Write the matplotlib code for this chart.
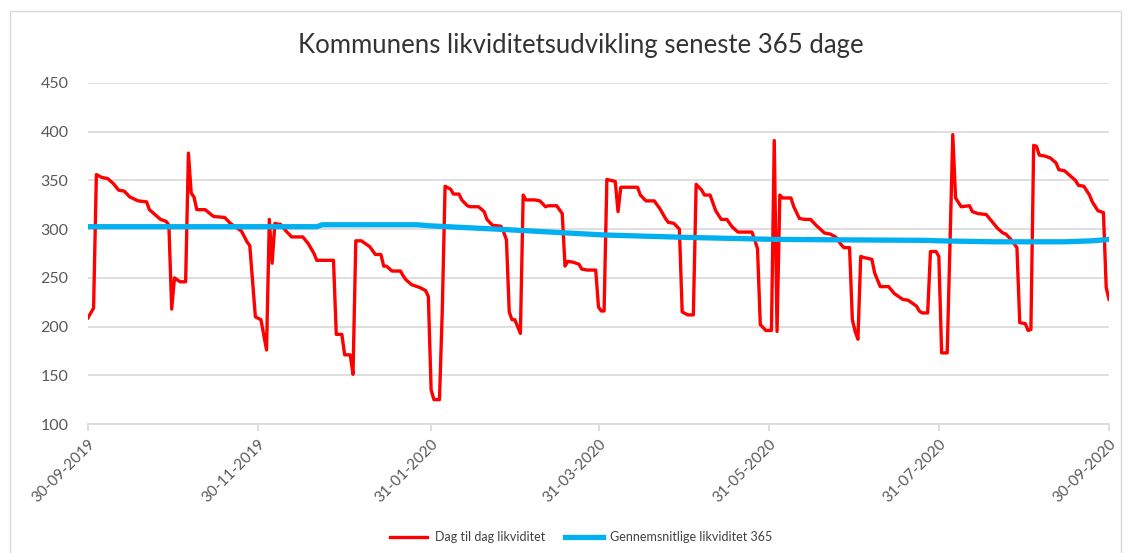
import matplotlib
matplotlib.use('Agg')
import matplotlib.pyplot as plt
from matplotlib.patches import Rectangle
import pandas as pd

# ---------------- data ----------------
start_date = '2019-09-30'

red_days = [0, 2, 3, 5, 7, 9, 11, 13, 15, 18, 21, 22, 24, 26, 28, 29, 30, 31, 33, 35,
            36, 37, 38, 39, 42, 45, 49, 51, 53, 55, 57, 58, 60, 62, 64, 65, 66, 67, 68, 69,
            71, 73, 77, 79, 80, 81, 82, 88, 89, 91, 92, 94, 95, 96, 98, 101, 103, 105, 106, 107,
            109, 112, 113, 114, 116, 119, 121, 122, 123, 124, 126, 127, 128, 130, 131, 133, 134, 136, 137, 140,
            142, 143, 145, 148, 149, 150, 151, 152, 153, 155, 156, 157, 160, 162, 164, 165, 168, 170, 171, 172,
            174, 176, 177, 179, 182, 183, 184, 185, 186, 189, 190, 191, 197, 198, 200, 203, 205, 207, 208, 210,
            212, 213, 215, 217, 218, 220, 221, 223, 225, 227, 229, 231, 233, 238, 239, 240, 241, 243, 245, 246,
            247, 248, 249, 252, 253, 255, 257, 259, 261, 264, 266, 268, 270, 271, 273, 274, 275, 276, 277, 278,
            281, 282, 284, 287, 289, 292, 294, 297, 298, 299, 301, 302, 304, 305, 306, 308, 310, 311, 313, 316,
            317, 319, 322, 324, 326, 328, 329, 331, 333, 334, 336, 337, 338, 339, 340, 341, 343, 345, 347, 348,
            350, 352, 354, 355, 357, 359, 360, 362, 364, 365, 366]
red_values = [209, 219, 356, 353, 352, 347, 340, 339, 333, 329, 328, 320, 315, 310, 308, 304, 218, 250, 246, 246,
              378, 337, 333, 320, 320, 313, 312, 306, 302, 298, 287, 283, 210, 207, 176, 310, 265, 306, 305, 305,
              298, 292, 292, 285, 280, 275, 268, 268, 192, 192, 171, 171, 151, 288, 288, 282, 274, 274, 262, 262,
              257, 257, 252, 248, 243, 240, 237, 231, 135, 125, 125, 217, 344, 341, 336, 336, 330, 324, 323, 323,
              318, 310, 304, 303, 297, 289, 215, 207, 207, 193, 335, 330, 330, 329, 323, 324, 324, 316, 262, 267,
              266, 264, 259, 258, 258, 220, 216, 216, 351, 349, 318, 343, 343, 335, 329, 329, 321, 311, 307, 306,
              300, 215, 212, 212, 346, 340, 335, 335, 319, 310, 310, 302, 297, 297, 289, 280, 202, 196, 196, 391,
              195, 335, 332, 332, 323, 311, 310, 310, 304, 296, 295, 292, 284, 281, 281, 207, 195, 187, 272, 271,
              269, 255, 241, 241, 234, 228, 227, 221, 216, 214, 214, 277, 277, 272, 173, 173, 397, 332, 323, 324,
              318, 316, 315, 308, 301, 296, 295, 289, 281, 204, 203, 196, 197, 386, 385, 376, 375, 373, 368, 361,
              360, 355, 350, 345, 344, 335, 328, 319, 317, 240, 228]

blue_days = [0, 82, 84, 118, 122, 150, 185, 215, 246, 270, 300, 305, 325, 350, 360, 366]
blue_values = [302.5, 302.5, 304.5, 304.5, 303.5, 299.5, 294, 291.5, 289.5, 289, 288.5, 288, 287, 287, 288, 289.5]

tick_labels = ['30-09-2019', '30-11-2019', '31-01-2020', '31-03-2020',
               '31-05-2020', '31-07-2020', '30-09-2020']
y_ticks = [100, 150, 200, 250, 300, 350, 400, 450]
title = 'Kommunens likviditetsudvikling seneste 365 dage'
series_names = ['Dag til dag likviditet', 'Gennemsnitlige likviditet 365']

# ---------------- plot ----------------
plt.rcParams['font.family'] = ['Lato', 'DejaVu Sans']

base = pd.Timestamp(start_date)
red_dates = base + pd.to_timedelta(red_days, unit='D')
blue_dates = base + pd.to_timedelta(blue_days, unit='D')
tick_dates = pd.to_datetime(tick_labels, format='%d-%m-%Y')

W, H = 1128, 553
fig = plt.figure(figsize=(W / 100, H / 100), dpi=100)
fig.patch.set_facecolor('white')

# chart area border
fig.patches.append(Rectangle((10 / W, -0.05), 1111 / W, 1 - 11 / H + 0.05,
                             transform=fig.transFigure, fill=False,
                             edgecolor='#d9d9d9', linewidth=1.0))

ax = fig.add_axes([88 / W, 1 - 424 / H, 1021 / W, 341 / H])

l1, = ax.plot(red_dates, red_values, color='#ff0000', linewidth=2.4,
              solid_joinstyle='round', zorder=3)
l2, = ax.plot(blue_dates, blue_values, color='#00b0f0', linewidth=3.8,
              solid_joinstyle='round', zorder=4)

ax.set_xlim(tick_dates[0], tick_dates[-1])
ax.set_ylim(y_ticks[0], y_ticks[-1])
ax.set_yticks(y_ticks)
ax.set_xticks(tick_dates)
ax.set_xticklabels(tick_labels, rotation=45, ha='right', rotation_mode='anchor')

ax.grid(axis='y', color='#d9d9d9', linewidth=1.2)
ax.set_axisbelow(True)
for s in ['top', 'left', 'right']:
    ax.spines[s].set_visible(False)
ax.spines['bottom'].set_color('#d9d9d9')
ax.spines['bottom'].set_linewidth(1.2)
ax.spines['bottom'].set_zorder(2)

ax.tick_params(axis='y', length=0, pad=14, labelsize=11.5, labelcolor='#595959')
ax.tick_params(axis='x', length=5, width=1.2, color='#d9d9d9', direction='out',
               pad=4, labelsize=11, labelcolor='#595959')

fig.text(581 / W, 1 - 45 / H, title, ha='center', va='center',
         fontsize=18.5, color='#333333')

fig.legend([l1, l2], series_names, loc='center',
           bbox_to_anchor=(581 / W, 1 - 537 / H), ncol=2, frameon=False,
           fontsize=9, handlelength=3, handletextpad=0.6, columnspacing=1.6,
           labelcolor='#404040')

fig.savefig('out.png', dpi=100, facecolor='white')
